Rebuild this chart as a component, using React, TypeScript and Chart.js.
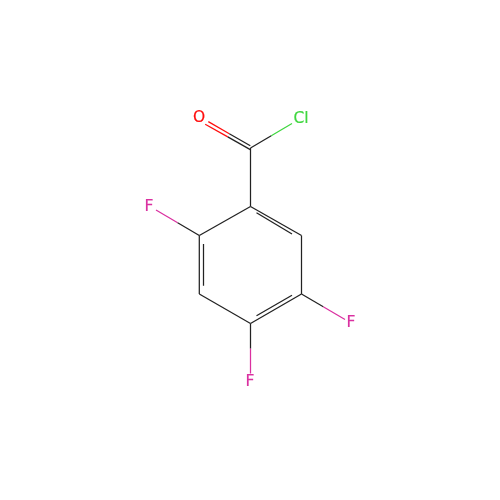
import React, { useEffect, useRef } from "react";
import { Chart, registerables } from "chart.js";

Chart.register(...registerables);

// Atom positions (x, y on a 0-500 grid, y downwards)
const atomNames = ["C1", "C2", "C3", "C4", "C5", "C6", "C7", "O", "Cl", "F2", "F4", "F5"];
const atomX = [250.5, 199.3, 199.3, 250.5, 301.5, 301.5, 250.5, 205.5, 292, 156, 250.5, 345];
const atomY = [206.5, 235.5, 294, 323.5, 294, 235.5, 148, 122.5, 123.5, 210, 373.5, 319.5];

const BLACK = "#222222";
const RED = "#ff0d0d";
const GREEN = "#3fd63f";
const MAGENTA = "#da30a0";

// Single bonds: [from, to, colour of far half]
const singleBonds: [string, string, string][] = [
  ["C1", "C2", BLACK],
  ["C3", "C4", BLACK],
  ["C5", "C6", BLACK],
  ["C1", "C7", BLACK],
  ["C7", "Cl", GREEN],
  ["C2", "F2", MAGENTA],
  ["C4", "F4", MAGENTA],
  ["C5", "F5", MAGENTA],
];
// Ring double bonds: outer line
const outerBonds: [string, string][] = [
  ["C1", "C6"],
  ["C2", "C3"],
  ["C4", "C5"],
];
// Inner lines of the ring double bonds: x1, y1, x2, y2
const innerX1 = [256.5, 203.5, 256.5];
const innerY1 = [212.8, 244, 315.7];
const innerX2 = [292, 203.5, 292];
const innerY2 = [234, 285.7, 295.3];
// C=O pair of lines: x1, y1, x2, y2
const carbonylX1 = [250.3, 250.3];
const carbonylY1 = [145.8, 149.6];
const carbonylX2 = [208.3, 205.2];
const carbonylY2 = [121.6, 124.2];

const labelText = ["O", "Cl", "F", "F", "F"];
const labelX = [199, 301, 149, 250, 351];
const labelY = [117.5, 118.5, 206.5, 381.5, 322.5];
const labelColor = [RED, GREEN, MAGENTA, MAGENTA, MAGENTA];

const at = (n: string) => {
  const i = atomNames.indexOf(n);
  return { x: atomX[i], y: atomY[i] };
};
const mid = (a: { x: number; y: number }, b: { x: number; y: number }, t = 0.5) => ({
  x: a.x + (b.x - a.x) * t,
  y: a.y + (b.y - a.y) * t,
});

const seg = (a: { x: number; y: number }, b: { x: number; y: number }, color: string, w = 1.25) => ({
  type: "scatter" as const,
  data: [a, b],
  showLine: true,
  borderColor: color,
  backgroundColor: color,
  borderWidth: w,
  pointRadius: 0,
  pointHoverRadius: 0,
  tension: 0,
  fill: false,
});

function buildDatasets() {
  const sets: any[] = [];
  for (const [a, b, color] of singleBonds) {
    const A = at(a);
    const B = at(b);
    if (color === BLACK) sets.push(seg(A, B, BLACK));
    else {
      const M = mid(A, B);
      sets.push(seg(A, M, BLACK));
      sets.push(seg(M, B, color));
    }
  }
  for (const [a, b] of outerBonds) sets.push(seg(at(a), at(b), BLACK));
  innerX1.forEach((x, i) =>
    sets.push(seg({ x, y: innerY1[i] }, { x: innerX2[i], y: innerY2[i] }, BLACK))
  );
  carbonylX1.forEach((x, i) => {
    const A = { x, y: carbonylY1[i] };
    const B = { x: carbonylX2[i], y: carbonylY2[i] };
    const M = mid(A, B);
    sets.push(seg(A, M, BLACK));
    sets.push(seg(M, B, RED));
  });
  return sets;
}

const atomLabels = {
  id: "atomLabels",
  afterDatasetsDraw(chart: any) {
    const { ctx, scales } = chart;
    ctx.save();
    ctx.font = '15.5px "DejaVu Sans"';
    ctx.textAlign = "center";
    ctx.textBaseline = "middle";
    ctx.lineWidth = 0.2;
    labelText.forEach((t, i) => {
      const x = scales.x.getPixelForValue(labelX[i]);
      const y = scales.y.getPixelForValue(labelY[i]);
      ctx.fillStyle = labelColor[i];
      ctx.strokeStyle = labelColor[i];
      ctx.fillText(t, x, y);
      ctx.strokeText(t, x, y);
    });
    ctx.restore();
  },
};

export default function App() {
  const ref = useRef<HTMLCanvasElement>(null);
  useEffect(() => {
    document.body.style.margin = "0";
    const chart = new Chart(ref.current!, {
      type: "scatter",
      data: { datasets: buildDatasets() },
      options: {
        animation: false,
        responsive: false,
        devicePixelRatio: 1,
        layout: { padding: 0 },
        plugins: { legend: { display: false }, tooltip: { enabled: false }, title: { display: false } },
        scales: {
          x: { type: "linear", min: 0, max: 500, display: false },
          y: { type: "linear", min: 0, max: 500, reverse: true, display: false },
        },
      },
      plugins: [atomLabels],
    });
    return () => chart.destroy();
  }, []);
  return (
    <div style={{ width: 500, height: 500, background: "#fff" }}>
      <canvas ref={ref} width={500} height={500} style={{ display: "block" }} />
    </div>
  );
}
